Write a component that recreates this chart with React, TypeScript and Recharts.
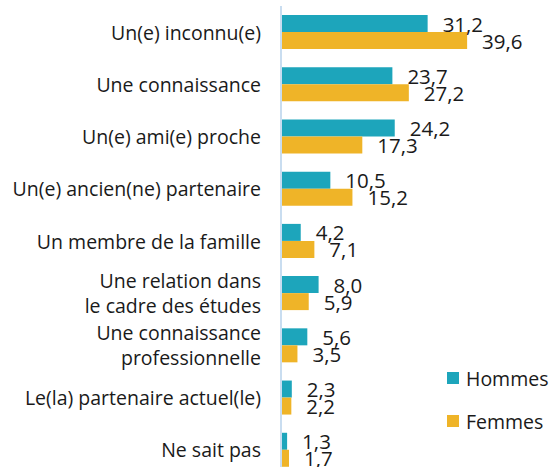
import { BarChart, Bar, XAxis, YAxis, LabelList } from "recharts";

const categories = [
  "Un(e) inconnu(e)",
  "Une connaissance",
  "Un(e) ami(e) proche",
  "Un(e) ancien(ne) partenaire",
  "Un membre de la famille",
  "Une relation dans\nle cadre des études",
  "Une connaissance\nprofessionnelle",
  "Le(la) partenaire actuel(le)",
  "Ne sait pas",
];
const hommes = [31.2, 23.7, 24.2, 10.5, 4.2, 8.0, 5.6, 2.3, 1.3];
const femmes = [39.6, 27.2, 17.3, 15.2, 7.1, 5.9, 3.5, 2.2, 1.7];
const seriesNames = ["Hommes", "Femmes"];

const HOMMES_COLOR = "#1DA5BB";
const FEMMES_COLOR = "#EFB428";
const FONT = "'Open Sans', sans-serif";
const TEXT = "#1a1a1a";

const data = categories.map((c, i) => ({ cat: c, hommes: hommes[i], femmes: femmes[i] }));

const fmt = (v: number) => v.toFixed(1).replace(".", ",");

// eslint-disable-next-line @typescript-eslint/no-explicit-any
const CatTick = ({ x, y, payload }: any) => {
  const lines = String(payload.value).split("\n");
  const lh = 25;
  const start = -((lines.length - 1) * lh) / 2;
  return (
    <text x={x - 12} y={y} textAnchor="end" fontSize={19.5} fill={TEXT} fontFamily={FONT}>
      {lines.map((l, i) => (
        <tspan key={i} x={x - 12} dy={i === 0 ? start : lh} dominantBaseline="central">
          {l}
        </tspan>
      ))}
    </text>
  );
};

// eslint-disable-next-line @typescript-eslint/no-explicit-any
const ValueLabel = ({ x, y, width, height, value }: any) => (
  <text
    x={x + width + 15}
    y={y + height / 2}
    dominantBaseline="central"
    fontSize={20.5}
    fill={TEXT}
    fontFamily={FONT}
  >
    {fmt(Number(value))}
  </text>
);

export default function App() {
  const colors = [HOMMES_COLOR, FEMMES_COLOR];
  return (
    <div style={{ position: "absolute", left: 0, top: 0, width: 550, height: 467, overflow: "hidden", background: "#fff" }}>
      <BarChart
        width={550}
        height={482}
        data={data}
        layout="vertical"
        margin={{ top: 6, right: 34, bottom: 6, left: 0 }}
        barSize={17}
        barGap={0}
      >
        <XAxis type="number" domain={[0, 50]} hide />
        <YAxis
          type="category"
          dataKey="cat"
          width={281}
          tick={<CatTick />}
          tickLine={false}
          axisLine={{ stroke: "#C9DDF0", strokeWidth: 2 }}
          interval={0}
        />
        <Bar dataKey="hommes" name="Hommes" fill={HOMMES_COLOR} isAnimationActive={false}>
          <LabelList dataKey="hommes" content={<ValueLabel />} />
        </Bar>
        <Bar dataKey="femmes" name="Femmes" fill={FEMMES_COLOR} isAnimationActive={false}>
          <LabelList dataKey="femmes" content={<ValueLabel />} />
        </Bar>
      </BarChart>
      <div style={{ position: "absolute", left: 447, top: 364, fontFamily: FONT, fontSize: 19.5, color: TEXT }}>
        {seriesNames.map((name, i) => (
          <div key={name} style={{ display: "flex", alignItems: "center", height: 28, marginTop: i ? 15 : 0 }}>
            <span style={{ width: 12, height: 12, background: colors[i], marginRight: 7, display: "inline-block" }} />
            {name}
          </div>
        ))}
      </div>
    </div>
  );
}
